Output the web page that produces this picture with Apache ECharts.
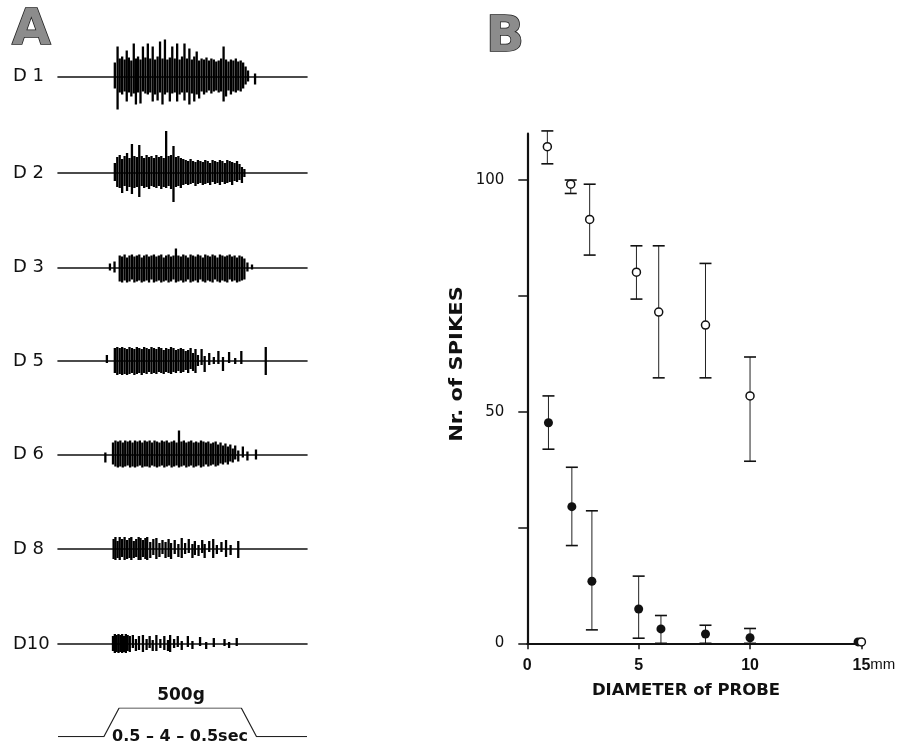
<!DOCTYPE html>
<html>
<head>
<meta charset="utf-8">
<script src="https://cdn.jsdelivr.net/npm/echarts@6/dist/echarts.min.js"></script>
<style>
  html, body { margin: 0; padding: 0; background: #fff; }
  #chart { width: 909px; height: 749px; }
</style>
</head>
<body>
<div id="chart"></div>
<script>
// ---------- Panel A: single-unit recordings, one trace per probe diameter ----------
// Each spike: [time (s, from ramp onset), upward deflection, downward deflection]
const traceNames = ['D 1', 'D 2', 'D 3', 'D 5', 'D 6', 'D 8', 'D10'];

const d1Spikes = [
  [0.36,14,12],[0.45,30,33],[0.52,18,16],[0.6,20,18],[0.68,17,15],[0.75,26,25],[0.82,19,16],
  [0.9,16,20],[0.98,33,17],[1.05,18,28],[1.12,20,16],[1.2,17,27],[1.28,30,15],[1.36,19,17],
  [1.44,33,18],[1.52,18,16],[1.6,30,25],[1.68,17,18],[1.76,20,24],[1.84,35,16],[1.92,18,28],
  [2.0,37,18],[2.08,17,16],[2.16,19,25],[2.24,30,17],[2.32,18,16],[2.4,33,25],[2.48,17,18],
  [2.56,20,16],[2.64,33,24],[2.72,18,16],[2.8,28,28],[2.88,17,17],[2.96,20,25],[3.04,25,18],
  [3.12,16,22],[3.2,18,15],[3.28,17,18],[3.36,19,16],[3.44,16,14],[3.52,18,17],[3.6,17,15],
  [3.68,15,14],[3.76,16,16],[3.84,18,15],[3.92,30,25],[4.0,17,20],[4.08,15,14],[4.16,17,18],
  [4.24,16,15],[4.32,18,16],[4.4,15,14],[4.48,16,15],[4.56,14,12],[4.64,10,8],[4.72,6,5],[4.95,3,8]
];
const d2Spikes = [
  [0.36,10,8],[0.44,16,14],[0.52,18,15],[0.6,14,20],[0.68,17,13],[0.76,20,18],[0.84,15,14],
  [0.92,29,21],[1.0,17,15],[1.08,16,14],[1.16,28,24],[1.24,17,13],[1.32,15,15],[1.4,18,14],
  [1.48,16,16],[1.56,17,13],[1.64,15,14],[1.72,18,15],[1.8,16,13],[1.88,17,16],[1.96,15,14],
  [2.04,42,15],[2.12,17,13],[2.2,18,16],[2.28,27,29],[2.36,16,14],[2.44,17,13],[2.52,15,15],
  [2.6,14,12],[2.68,13,11],[2.76,12,12],[2.84,14,11],[2.92,12,10],[3.0,11,13],[3.08,13,11],
  [3.16,12,10],[3.24,11,12],[3.32,13,11],[3.4,12,10],[3.48,10,12],[3.56,13,9],[3.64,12,11],
  [3.72,11,10],[3.8,13,12],[3.88,12,9],[3.96,10,11],[4.04,13,10],[4.12,12,9],[4.2,11,12],
  [4.28,10,8],[4.36,12,9],[4.44,9,7],[4.52,6,10],[4.6,4,4]
];
const d3Spikes = [
  [0.2,4,3],[0.35,6,5],[0.52,12,14],[0.6,11,15],[0.68,13,13],[0.76,10,15],[0.84,12,14],
  [0.92,13,12],[1.0,11,15],[1.08,12,14],[1.16,13,13],[1.24,10,15],[1.32,12,14],[1.4,13,13],
  [1.48,11,15],[1.56,12,12],[1.64,13,15],[1.72,11,14],[1.8,12,13],[1.88,13,15],[1.96,10,14],
  [2.04,12,13],[2.12,13,15],[2.2,11,14],[2.28,12,12],[2.36,19,15],[2.44,12,14],[2.52,11,13],
  [2.6,13,15],[2.68,12,14],[2.76,10,12],[2.84,13,15],[2.92,12,14],[3.0,11,13],[3.08,13,15],
  [3.16,12,12],[3.24,10,14],[3.32,13,15],[3.4,12,13],[3.48,11,14],[3.56,13,15],[3.64,12,12],
  [3.72,10,14],[3.8,13,15],[3.88,12,13],[3.96,11,14],[4.04,12,15],[4.12,13,12],[4.2,11,14],
  [4.28,12,13],[4.36,10,15],[4.44,12,14],[4.52,11,13],[4.6,9,12],[4.7,5,4],[4.85,3,2]
];
const d5Spikes = [
  [0.1,6,2],[0.36,13,12],[0.44,14,14],[0.52,13,13],[0.6,14,14],[0.68,13,13],[0.76,12,14],
  [0.84,14,13],[0.92,13,12],[1.0,12,14],[1.08,14,13],[1.16,13,12],[1.24,12,14],[1.32,14,12],
  [1.4,13,13],[1.48,12,11],[1.56,14,13],[1.64,13,12],[1.72,12,13],[1.8,14,11],[1.88,13,12],
  [1.96,11,13],[2.04,13,11],[2.12,12,12],[2.2,14,13],[2.28,13,11],[2.36,11,12],[2.44,12,10],
  [2.52,13,12],[2.6,12,11],[2.68,10,9],[2.76,11,12],[2.84,13,8],[2.92,8,10],[3.0,12,12],
  [3.08,6,5],[3.2,12,4],[3.3,5,11],[3.45,8,4],[3.6,4,3],[3.75,10,3],[3.9,4,10],[4.1,9,2],
  [4.3,3,3],[4.5,10,3],[5.3,14,14]
];
const d6Spikes = [
  [0.05,2,8],[0.3,12,10],[0.38,14,12],[0.46,13,13],[0.54,14,12],[0.62,12,13],[0.7,14,12],
  [0.78,13,11],[0.86,14,13],[0.94,12,12],[1.02,14,13],[1.1,13,12],[1.18,14,11],[1.26,12,13],
  [1.34,14,12],[1.42,13,12],[1.5,14,13],[1.58,12,11],[1.66,14,12],[1.74,13,13],[1.82,12,12],
  [1.9,14,11],[1.98,13,13],[2.06,14,12],[2.14,12,11],[2.22,13,13],[2.3,14,12],[2.38,12,11],
  [2.46,24,13],[2.54,13,12],[2.62,14,11],[2.7,12,13],[2.78,13,12],[2.86,14,11],[2.94,12,13],
  [3.02,13,12],[3.1,12,11],[3.18,14,13],[3.26,13,12],[3.34,12,10],[3.42,13,12],[3.5,11,11],
  [3.58,12,10],[3.66,13,12],[3.74,10,11],[3.82,12,9],[3.9,9,10],[3.98,11,8],[4.06,8,10],
  [4.14,10,7],[4.22,6,8],[4.3,9,5],[4.4,4,7],[4.55,8,3],[4.7,3,6],[4.98,5,5]
];
const d8Spikes = [
  [0.32,10,10],[0.38,12,11],[0.45,8,9],[0.52,12,11],[0.6,10,8],[0.68,12,11],[0.76,9,10],
  [0.84,11,9],[0.9,12,11],[0.98,8,9],[1.06,10,8],[1.14,12,11],[1.2,11,11],[1.28,9,8],
  [1.36,11,10],[1.42,12,11],[1.52,7,9],[1.62,10,6],[1.72,11,10],[1.82,6,8],[1.92,9,5],
  [2.02,7,9],[2.12,10,8],[2.2,6,10],[2.32,9,5],[2.44,5,8],[2.55,11,9],[2.66,6,5],[2.78,10,4],
  [2.9,5,9],[2.98,8,6],[3.1,4,7],[3.22,9,4],[3.3,5,9],[3.45,8,3],[3.58,10,9],[3.7,4,5],
  [3.85,7,3],[4.0,9,8],[4.15,4,6],[4.4,8,9]
];
const d10Spikes = [
  [0.3,8,7],[0.36,10,9],[0.42,9,8],[0.48,10,9],[0.54,9,8],[0.6,10,9],[0.66,8,8],[0.72,10,9],
  [0.78,9,7],[0.85,8,8],[0.95,9,4],[1.05,5,7],[1.15,8,6],[1.28,9,8],[1.4,5,6],[1.5,8,4],
  [1.6,4,7],[1.72,9,7],[1.85,5,4],[1.98,8,6],[2.1,4,7],[2.17,9,8],[2.3,5,4],[2.42,8,3],
  [2.55,3,6],[2.75,8,3],[2.9,3,5],[3.15,7,2],[3.35,2,5],[3.6,6,3],[3.95,5,2],[4.1,2,4],[4.35,6,2]
];
const traceSpikes = [d1Spikes, d2Spikes, d3Spikes, d5Spikes, d6Spikes, d8Spikes, d10Spikes];

// Stimulus: 500 g ramp-and-hold (0.5 s up, 4 s hold, 0.5 s down)
const stimTime = [-1.5, 0, 0.5, 4.5, 5, 6.65];
const stimForce = [0, 0, 500, 500, 0, 0];

// ---------- Panel B: spike counts vs. probe diameter ----------
const openX    = [0.9, 1.95, 2.8, 4.9, 5.9, 8, 10, 15];
const openMean = [107.2, 99.1, 91.5, 80.1, 71.5, 68.7, 53.4, 0.3];
const openLow  = [103.5, 97.1, 83.8, 74.3, 57.3, 57.3, 39.3, null];
const openHigh = [110.6, 100.0, 99.1, 85.8, 85.8, 82.0, 61.8, null];

const fillX    = [0.95, 2.0, 2.9, 5.0, 6.0, 8.0, 10.0, 14.85];
const fillMean = [47.6, 29.5, 13.4, 7.4, 3.1, 2.0, 1.2, 0.3];
const fillLow  = [41.9, 21.1, 2.9, 1.1, 0, 0, 0, null];
const fillHigh = [53.4, 38.0, 28.6, 14.5, 6.0, 3.9, 3.2, null];

const xTicks = [0, 5, 10, 15];
const yTicks = [0, 25, 50, 75, 100];
const yLabels = [0, 50, 100];

// ---------- layout ----------
const INK = '#111';
const baselineY = [76.5, 173, 267.5, 361, 454.5, 549, 644];
const traceLeft = 58, traceWidth = 249, tMin = -1.5, tMax = 6.65;

const grids = [], xAxes = [], yAxes = [], series = [];

function spikeItem(params, api) {
  const t = api.value(0);
  const a = api.coord([t, api.value(1)]);
  const b = api.coord([t, -api.value(2)]);
  return {
    type: 'line',
    shape: { x1: a[0], y1: a[1], x2: b[0], y2: b[1] },
    style: { stroke: '#000', lineWidth: 2.3 }
  };
}

traceNames.forEach((name, i) => {
  grids.push({ left: traceLeft, width: traceWidth, top: baselineY[i] - 40, height: 80 });
  xAxes.push({
    gridIndex: i, type: 'value', min: tMin, max: tMax,
    axisLine: { show: true, onZero: true, lineStyle: { color: INK, width: 1.6 } },
    axisTick: { show: false }, axisLabel: { show: false }, splitLine: { show: false }
  });
  yAxes.push({
    gridIndex: i, type: 'value', min: -40, max: 40,
    axisLine: { show: false }, axisTick: { show: false }, splitLine: { show: false },
    axisLabel: {
      show: true, customValues: [0], align: 'left', margin: 45,
      formatter: () => name,
      fontFamily: 'DejaVu Sans', fontSize: 18, color: INK
    }
  });
  series.push({
    type: 'custom', xAxisIndex: i, yAxisIndex: i,
    renderItem: spikeItem, encode: { x: 0, y: [1, 2] },
    data: traceSpikes[i], silent: true, z: 3
  });
});

// stimulus trace
const stimIdx = traceNames.length;
grids.push({ left: traceLeft, width: traceWidth, top: 708, height: 28.7 });
xAxes.push({ gridIndex: stimIdx, type: 'value', min: tMin, max: tMax, show: false });
yAxes.push({ gridIndex: stimIdx, type: 'value', min: 0, max: 500, show: false });
series.push({
  type: 'line', xAxisIndex: stimIdx, yAxisIndex: stimIdx,
  data: stimTime.map((t, k) => [t, stimForce[k]]),
  symbol: 'none', lineStyle: { color: '#222', width: 1.2 }, silent: true
});

// panel B
const bIdx = stimIdx + 1;
grids.push({ left: 527.3, top: 133.7, width: 334.1, height: 509.6 });
xAxes.push({
  gridIndex: bIdx, type: 'value', min: 0, max: 15, interval: 5,
  axisLine: { show: true, onZero: false, lineStyle: { color: INK, width: 2.2 } },
  axisTick: { show: true, customValues: xTicks, length: 6, lineStyle: { color: INK, width: 1.5 } },
  splitLine: { show: false },
  axisLabel: {
    customValues: xTicks, margin: 14, color: INK,
    fontFamily: 'Liberation Sans', fontSize: 16, fontWeight: 'bold',
    formatter: v => v === 15 ? '{s|}15{u|mm}' : String(v),
    rich: {
      s: { width: 25 },
      u: { fontFamily: 'Liberation Sans', fontSize: 15, fontWeight: 'normal', color: INK, width: 25 }
    }
  }
});
yAxes.push({
  gridIndex: bIdx, type: 'value', min: 0, max: 110,
  axisLine: { show: true, onZero: false, lineStyle: { color: INK, width: 2.2 } },
  axisTick: { show: true, customValues: yTicks, length: 9, lineStyle: { color: INK, width: 1.5 } },
  splitLine: { show: false },
  axisLabel: {
    customValues: yLabels, margin: 23, color: INK,
    fontFamily: 'DejaVu Sans', fontSize: 15
  }
});

function errItem(params, api) {
  const x = api.value(0);
  const lo = api.coord([x, api.value(1)]);
  const hi = api.coord([x, api.value(2)]);
  const w = 6;
  const st = { stroke: '#222', lineWidth: 1 };
  const cap = { stroke: INK, lineWidth: 1.6 };
  return {
    type: 'group',
    children: [
      { type: 'line', shape: { x1: hi[0], y1: hi[1], x2: lo[0], y2: lo[1] }, style: st },
      { type: 'line', shape: { x1: hi[0] - w, y1: hi[1], x2: hi[0] + w, y2: hi[1] }, style: cap },
      { type: 'line', shape: { x1: lo[0] - w, y1: lo[1], x2: lo[0] + w, y2: lo[1] }, style: cap }
    ]
  };
}
function errData(xs, lows, highs) {
  const out = [];
  xs.forEach((x, k) => { if (lows[k] != null && highs[k] != null) out.push([x, lows[k], highs[k]]); });
  return out;
}

series.push(
  { type: 'custom', xAxisIndex: bIdx, yAxisIndex: bIdx, renderItem: errItem,
    encode: { x: 0, y: [1, 2] }, data: errData(openX, openLow, openHigh), silent: true, z: 2 },
  { type: 'custom', xAxisIndex: bIdx, yAxisIndex: bIdx, renderItem: errItem,
    encode: { x: 0, y: [1, 2] }, data: errData(fillX, fillLow, fillHigh), silent: true, z: 2 },
  { type: 'scatter', xAxisIndex: bIdx, yAxisIndex: bIdx,
    data: fillX.map((x, k) => [x, fillMean[k]]),
    symbol: 'circle', symbolSize: 9, itemStyle: { color: INK, opacity: 1 }, silent: true, z: 4 },
  { type: 'scatter', xAxisIndex: bIdx, yAxisIndex: bIdx,
    data: openX.map((x, k) => [x, openMean[k]]),
    symbol: 'circle', symbolSize: 8,
    itemStyle: { color: '#fff', borderColor: INK, borderWidth: 1.5, opacity: 1 }, silent: true, z: 5 }
);

const panelLetter = (txt, x, y) => ({
  type: 'text', x, y, silent: true,
  style: {
    text: txt, font: 'bold 50px "DejaVu Sans"', fill: '#8c8c8c',
    stroke: '#222', lineWidth: 1.6, textAlign: 'left', textVerticalAlign: 'middle'
  }
});

const chart = echarts.init(document.getElementById('chart'), null, { renderer: 'canvas' });
chart.setOption({
  backgroundColor: '#fff',
  animation: false,
  grid: grids,
  xAxis: xAxes,
  yAxis: yAxes,
  series: series,
  graphic: [
    panelLetter('A', 12, 31),
    panelLetter('B', 486, 38),
    {
      type: 'text', x: 181, y: 696, silent: true,
      style: { text: '500g', font: 'bold 17px "DejaVu Sans"', fill: INK,
               textAlign: 'center', textVerticalAlign: 'middle' }
    },
    {
      type: 'text', x: 180, y: 737, silent: true,
      style: { text: '0.5 – 4 – 0.5sec', font: 'bold 16px "DejaVu Sans"', fill: INK,
               textAlign: 'center', textVerticalAlign: 'middle' }
    },
    {
      type: 'text', x: 457, y: 364, rotation: Math.PI / 2, scaleX: 1.17, silent: true,
      style: { text: 'Nr. of SPIKES', font: 'bold 18px "DejaVu Sans"', fill: INK,
               textAlign: 'center', textVerticalAlign: 'middle' }
    },
    {
      type: 'text', x: 686, y: 691, silent: true,
      style: { text: 'DIAMETER of PROBE', font: 'bold 16.5px "DejaVu Sans"', fill: INK,
               textAlign: 'center', textVerticalAlign: 'middle' }
    }
  ]
});
</script>
</body>
</html>
